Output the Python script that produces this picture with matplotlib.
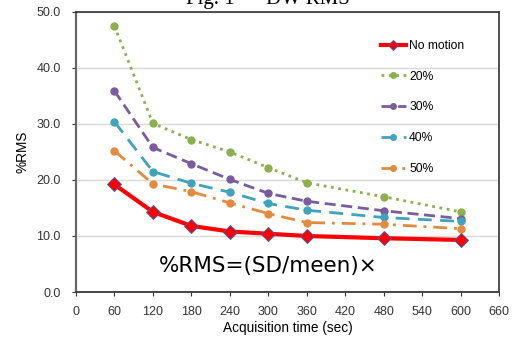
import numpy as np
import matplotlib.pyplot as plt

plt.rcParams['font.family'] = ['Liberation Sans', 'DejaVu Sans']

# Acquisition times (sec) and %RMS for each motion level
times = [60, 120, 180, 240, 300, 360, 480, 600]
no_motion = [19.2, 14.3, 11.8, 10.8, 10.4, 10.0, 9.6, 9.3]
motion_20 = [47.5, 30.1, 27.2, 25.0, 22.2, 19.5, 17.0, 14.3]
motion_30 = [35.9, 25.8, 22.9, 20.1, 17.6, 16.2, 14.5, 13.1]
motion_40 = [30.4, 21.5, 19.4, 17.8, 15.8, 14.6, 13.3, 12.6]
motion_50 = [25.2, 19.3, 17.9, 15.9, 14.0, 12.4, 12.1, 11.3]

fig = plt.figure(figsize=(5.2, 3.38), dpi=100)
ax = fig.add_axes([0.146, 0.136, 0.814, 0.829])

ax.plot(times, motion_20, ':', color='#8DB04E', lw=2, marker='o', ms=5, label='20%')
ax.plot(times, motion_30, '--', color='#7A5C9E', lw=2, dashes=(4, 2), marker='o', ms=5, label='30%')
ax.plot(times, motion_40, '--', color='#3FA3BD', lw=2, dashes=(5, 3), marker='o', ms=5, label='40%')
ax.plot(times, motion_50, '-.', color='#E48A3E', lw=2, dashes=(5, 2.5, 1, 2.5), marker='o', ms=5, label='50%')
ax.plot(times, no_motion, '-', color='#FF0000', lw=3, marker='D', ms=7,
        mec='#4060B0', mew=0.7, label='No motion', zorder=5)

# legend order: No motion first
handles, labels = ax.get_legend_handles_labels()
order = [4, 0, 1, 2, 3]
ax.legend([handles[i] for i in order], [labels[i] for i in order],
          loc='upper left', bbox_to_anchor=(0.72, 0.90), frameon=False,
          fontsize=8.7, handlelength=2.1, handletextpad=0.25,
          labelspacing=1.55, borderaxespad=0, borderpad=0, markerscale=0.8)

ax.set_xlim(0, 660)
ax.set_ylim(0, 50)
ax.set_xticks(np.arange(0, 661, 60))
ax.set_yticks(np.arange(0, 51, 10))
ax.set_yticklabels([f'{v:.1f}' for v in np.arange(0, 51, 10)])
ax.tick_params(labelsize=9, colors='#333333', length=3, width=0.8)
ax.tick_params(axis='y', pad=8)
ax.tick_params(axis='x', pad=7)
ax.yaxis.grid(True, color='#D9D9D9', lw=1)
ax.set_axisbelow(True)
for side in ['top', 'right']:
    ax.spines[side].set_color('#333333')
    ax.spines[side].set_linewidth(1.2)
ax.spines['left'].set_color('#666666')
ax.spines['left'].set_linewidth(1.6)
ax.spines['bottom'].set_color('#444444')
ax.spines['bottom'].set_linewidth(1.4)

ax.set_xlabel('Acquisition time (sec)', fontsize=9.8, labelpad=2)
ax.set_ylabel('%RMS', fontsize=9.8, labelpad=5)

ax.text(0.195, 0.07, '%RMS=(SD/meen)\u00d7', transform=ax.transAxes,
        fontsize=15.5, family='DejaVu Sans', color='black')

# caption above the chart, mostly cut off by the figure edge
fig.text(0.515, 0.988, 'Fig. 1 \u2014 DW RMS', fontsize=15, family='Liberation Serif',
         ha='center', va='baseline')

fig.savefig('out.png', dpi=100)
